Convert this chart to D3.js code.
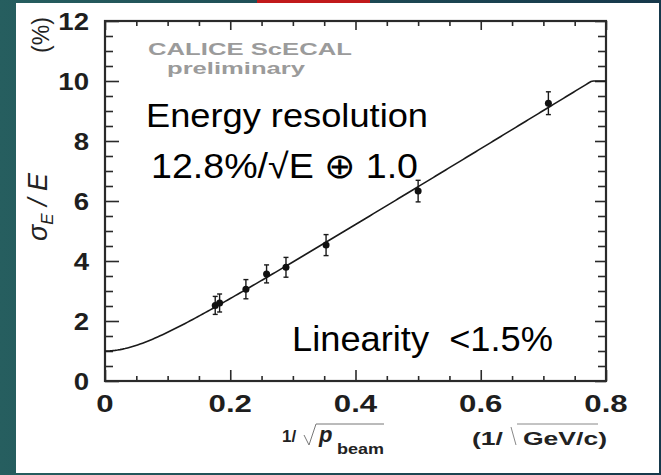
<!DOCTYPE html>
<html>
<head>
<meta charset="utf-8">
<script src="https://cdn.jsdelivr.net/npm/d3@7"></script>
<style>
  html, body { margin: 0; padding: 0; background: #1f4f58; }
  svg { display: block; }
  text { font-family: "Liberation Sans", Arial, Helvetica, sans-serif; }
</style>
</head>
<body>
<script>
// ---- data ----
const xTickValues = [0, 0.2, 0.4, 0.6, 0.8];
const xTickLabels = ["0", "0.2", "0.4", "0.6", "0.8"];
const yTickValues = [0, 2, 4, 6, 8, 10, 12];
const yTickLabels = ["0", "2", "4", "6", "8", "10", "12"];
const pointX   = [0.176, 0.183, 0.225, 0.258, 0.289, 0.353, 0.500, 0.708];
const pointY   = [2.52, 2.60, 3.06, 3.57, 3.79, 4.53, 6.33, 9.26];
const pointErr = [0.30, 0.30, 0.32, 0.30, 0.33, 0.35, 0.36, 0.38];
// fit: sigma/E = 12.8%/sqrt(E) (+) 1.0%, with x = 1/sqrt(p)
const fitStochastic = 12.8;
const fitConstant = 1.0;
const fitCeiling = 10;

const W = 661, H = 475;
const svg = d3.select("body").append("svg").attr("width", W).attr("height", H);

// background
const defs = svg.append("defs");
const grad = defs.append("linearGradient").attr("id", "bg").attr("x1", "0").attr("y1", "0").attr("x2", "1").attr("y2", "0");
grad.append("stop").attr("offset", "0").attr("stop-color", "#265e5f");
grad.append("stop").attr("offset", "1").attr("stop-color", "#16384b");
svg.append("rect").attr("width", W).attr("height", H).attr("fill", "url(#bg)");
svg.append("rect").attr("x", 257).attr("y", 0).attr("width", 113).attr("height", 3).attr("fill", "#c1191b");
svg.append("rect").attr("x", 16).attr("y", 3).attr("width", 643).attr("height", 470).attr("fill", "#ffffff");

// scales
const x = d3.scaleLinear().domain([0, 0.8]).range([105, 606]);
const y = d3.scaleLinear().domain([0, 12]).range([381, 21]);

const g = svg.append("g");
const axisColor = "#2a2a2a";

// ticks (inward on all four sides)
const xMinor = d3.range(0, 0.8001, 0.05).filter(v => Math.abs(v * 5 - Math.round(v * 5)) > 1e-6);
const yMinor = d3.range(0, 12.001, 0.5).filter(v => Math.abs(v / 2 - Math.round(v / 2)) > 1e-6);

function drawAxis(axisGen, transform, majorLen, minorLen, majors, minors) {
  g.append("g").attr("transform", transform)
    .call(axisGen.tickValues(majors).tickSize(majorLen).tickFormat(""))
    .call(s => s.select(".domain").remove())
    .call(s => s.selectAll("line").attr("stroke", axisColor).attr("stroke-width", 1.6));
  g.append("g").attr("transform", transform)
    .call(axisGen.tickValues(minors).tickSize(minorLen).tickFormat(""))
    .call(s => s.select(".domain").remove())
    .call(s => s.selectAll("line").attr("stroke", axisColor).attr("stroke-width", 1.6));
}
drawAxis(d3.axisTop(x), `translate(0,${y(0)})`, 11, 5, xTickValues, xMinor);
drawAxis(d3.axisBottom(x), `translate(0,${y(12)})`, 9, 5, xTickValues, xMinor);
drawAxis(d3.axisRight(y), `translate(${x(0)},0)`, 14, 8, yTickValues, yMinor);
drawAxis(d3.axisLeft(y), `translate(${x(0.8)},0)`, 11, 8, yTickValues, yMinor);

// frame
g.append("rect").attr("x", x(0)).attr("y", y(12)).attr("width", x(0.8) - x(0)).attr("height", y(0) - y(12))
  .attr("fill", "none").attr("stroke", axisColor).attr("stroke-width", 2.2);

// tick labels (the source figure is horizontally stretched)
g.selectAll(".ylab").data(yTickValues).join("text")
  .attr("transform", d => `translate(89,${y(d)}) scale(1.15,1)`).attr("dy", "0.36em")
  .attr("text-anchor", "end").attr("font-size", 24).attr("font-weight", "bold").attr("fill", "#1e1e1e")
  .text((d, i) => yTickLabels[i]);
g.selectAll(".xlab").data(xTickValues).join("text")
  .attr("transform", d => `translate(${x(d)},412) scale(1.3,1)`)
  .attr("text-anchor", "middle").attr("font-size", 24).attr("font-weight", "bold").attr("fill", "#1e1e1e")
  .text((d, i) => xTickLabels[i]);

// fit curve
const curveX = d3.range(0, 0.8001, 0.004);
const fitLine = d3.line()
  .x(d => x(d))
  .y(d => y(Math.min(Math.hypot(fitStochastic * d, fitConstant), fitCeiling)));
g.append("path").datum(curveX).attr("d", fitLine)
  .attr("fill", "none").attr("stroke", "#1a1a1a").attr("stroke-width", 1.6);

// error bars and points
const pts = pointX.map((v, i) => ({ x: v, y: pointY[i], e: pointErr[i] }));
const eb = g.append("g").attr("stroke", "#1a1a1a").attr("stroke-width", 1.4);
eb.selectAll(".ev").data(pts).join("line")
  .attr("x1", d => x(d.x)).attr("x2", d => x(d.x))
  .attr("y1", d => y(d.y - d.e)).attr("y2", d => y(d.y + d.e));
eb.selectAll(".ct").data(pts).join("line")
  .attr("x1", d => x(d.x) - 2.5).attr("x2", d => x(d.x) + 2.5)
  .attr("y1", d => y(d.y + d.e)).attr("y2", d => y(d.y + d.e));
eb.selectAll(".cb").data(pts).join("line")
  .attr("x1", d => x(d.x) - 2.5).attr("x2", d => x(d.x) + 2.5)
  .attr("y1", d => y(d.y - d.e)).attr("y2", d => y(d.y - d.e));
g.selectAll(".pt").data(pts).join("circle")
  .attr("cx", d => x(d.x)).attr("cy", d => y(d.y)).attr("r", 3.5).attr("fill", "#111");

// watermark
g.append("text").attr("x", 148).attr("y", 55).attr("font-size", 17).attr("font-weight", "bold")
  .attr("fill", "#9b9b9b").attr("textLength", 204).attr("lengthAdjust", "spacingAndGlyphs").text("CALICE ScECAL");
g.append("text").attr("x", 167).attr("y", 74).attr("font-size", 17).attr("font-weight", "bold")
  .attr("fill", "#9b9b9b").attr("textLength", 138).attr("lengthAdjust", "spacingAndGlyphs").text("preliminary");

// annotations
g.append("text").attr("x", 146).attr("y", 127).attr("font-size", 34).attr("fill", "#000")
  .attr("textLength", 282).attr("lengthAdjust", "spacingAndGlyphs").text("Energy resolution");
g.append("text").attr("x", 151).attr("y", 178).attr("font-size", 35).attr("fill", "#000")
  .attr("textLength", 267).attr("lengthAdjust", "spacingAndGlyphs").text("12.8%/\u221AE \u2295 1.0");
g.append("text").attr("x", 292).attr("y", 351).attr("font-size", 35).attr("fill", "#000")
  .style("white-space", "pre")
  .attr("textLength", 261).attr("lengthAdjust", "spacingAndGlyphs").text("Linearity  <1.5%");

// y axis title
const yt = g.append("text").attr("transform", "translate(47,207) rotate(-90)")
  .attr("text-anchor", "middle").attr("font-size", 27).attr("font-style", "italic").attr("fill", "#222");
yt.append("tspan").text("\u03C3");
yt.append("tspan").attr("dy", 6).attr("font-size", 17).text("E");
yt.append("tspan").attr("dy", -6).style("white-space", "pre").text(" / E");
g.append("text").attr("transform", "translate(49,35) rotate(-90)")
  .attr("text-anchor", "middle").attr("font-size", 23).attr("fill", "#222").text("(%)");

// x axis title
g.append("text").attr("x", 282).attr("y", 442).attr("font-size", 17).attr("font-weight", "bold")
  .attr("fill", "#222").text("1/");
g.append("path").attr("d", "M304,435 L309,445 L316,424 L384,424")
  .attr("fill", "none").attr("stroke", "#777").attr("stroke-width", 1);
g.append("text").attr("x", 319).attr("y", 442).attr("font-size", 22).attr("font-weight", "bold")
  .attr("font-style", "italic").attr("fill", "#222").text("p");
g.append("text").attr("x", 337).attr("y", 454).attr("font-size", 14).attr("font-weight", "bold")
  .attr("fill", "#222").attr("textLength", 47).attr("lengthAdjust", "spacingAndGlyphs").text("beam");

g.append("text").attr("x", 472).attr("y", 445).attr("font-size", 19).attr("font-weight", "bold")
  .attr("fill", "#222").attr("textLength", 31).attr("lengthAdjust", "spacingAndGlyphs").text("(1/");
g.append("path").attr("d", "M511,427 L516,445 M517,424 L598,424")
  .attr("fill", "none").attr("stroke", "#888").attr("stroke-width", 1);
g.append("text").attr("x", 523).attr("y", 445).attr("font-size", 19).attr("font-weight", "bold")
  .attr("fill", "#222").attr("textLength", 84).attr("lengthAdjust", "spacingAndGlyphs").text("GeV/c)");
</script>
</body>
</html>
